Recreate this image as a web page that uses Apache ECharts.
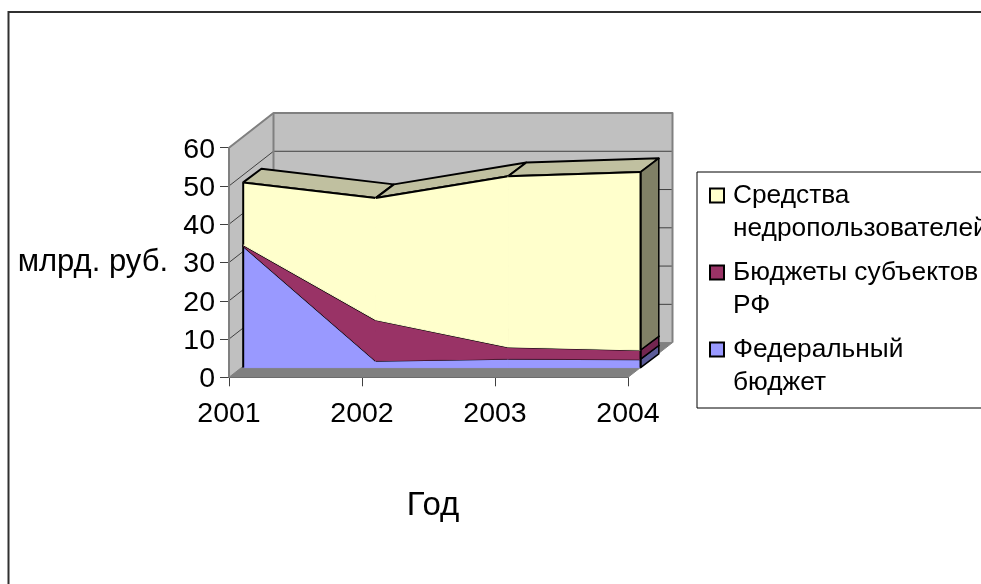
<!DOCTYPE html>
<html>
<head>
<meta charset="utf-8">
<style>html,body{margin:0;padding:0;background:#fff}#c{width:981px;height:584px}</style>
<script src="https://cdn.jsdelivr.net/npm/echarts@6/dist/echarts.min.js"></script>
</head>
<body>
<div id="c"></div>
<script>
const categories = ['2001', '2002', '2003', '2004'];
const federal = [31.8, 1.8, 2.3, 2.2];
const regional = [0.3, 10.7, 3.1, 2.4];
const subsoil = [16.3, 31.8, 44.6, 46.5];
const yTicks = [0, 10, 20, 30, 40, 50, 60];
const seriesNames = ['Федеральный бюджет', 'Бюджеты субъектов РФ', 'Средства недропользователей'];
const legendLabels = {
  'Федеральный бюджет': 'Федеральный\nбюджет',
  'Бюджеты субъектов РФ': 'Бюджеты субъектов\nРФ',
  'Средства недропользователей': 'Средства\nнедропользователей'
};
const FONT = '"Liberation Sans", Arial, sans-serif';

// depth of the pseudo-3D box, in pixels
const WALL = [44.5, -34.7], FRONT = [14.2, -9.7], THICK = [18.2, -13.7], SQUEEZE = 0.996;
const faces = [
  { front: '#9999ff', top: '#7a7acc', side: '#5c5c99' },
  { front: '#993366', top: '#7a2952', side: '#732650' },
  { front: '#ffffcc', top: '#c0c0a0', side: '#808066' }
];

function cumulative(list) {
  let acc = new Array(categories.length).fill(0);
  return list.map(vals => {
    const low = acc.slice();
    acc = acc.map((a, i) => a + vals[i]);
    return { low, high: acc.slice() };
  });
}
const stacks = cumulative([federal, regional, subsoil]);

function project(api, i, v, back) {
  const p = api.coord([i, v]), o = api.coord([0, 0]);
  const x = o[0] + (p[0] - o[0]) * SQUEEZE + FRONT[0] + (back ? THICK[0] : 0);
  const y = p[1] + FRONT[1] + (back ? THICK[1] : 0);
  return [x, y];
}
function poly(points, fill, stroke, w) {
  return { type: 'polygon', shape: { points }, style: { fill, stroke: stroke || fill, lineWidth: w === undefined ? 1 : w, lineJoin: 'round' } };
}
function line(points, stroke, w) {
  return { type: 'polyline', shape: { points }, style: { fill: 'none', stroke, lineWidth: w, lineJoin: 'round' } };
}

function renderWalls(params, api) {
  const last = categories.length - 1, top = yTicks[yTicks.length - 1];
  const a = api.coord([0, 0]), b = api.coord([last, 0]), c = api.coord([0, top]);
  const sh = p => [p[0] + WALL[0], p[1] + WALL[1]];
  const gridCol = '#404040';
  const children = [
    poly([a, c, sh(c), sh(a)], '#c0c0c0'),
    poly([sh(a), sh(c), [sh(b)[0], sh(c)[1]], sh(b)], '#c0c0c0'),
    poly([a, b, sh(b), sh(a)], '#808080')
  ];
  yTicks.slice(1, -1).forEach(v => {
    const p = api.coord([0, v]);
    children.push(line([p, sh(p), [sh(b)[0], sh(p)[1]]], gridCol, 1));
  });
  children.push(line([a, c, sh(c), [sh(b)[0], sh(c)[1]], sh(b)], '#808080', 2));
  children.push(line([sh(c), sh(a)], '#808080', 2));
  return { type: 'group', children };
}

function renderBand(k) {
  return function (params, api) {
    const i = api.value(0), s = stacks[k], f = faces[k], children = [];
    const last = categories.length - 1;
    if (i < last) {
      const lo0 = project(api, i, s.low[i]), lo1 = project(api, i + 1, s.low[i + 1]);
      const up0 = project(api, i, s.high[i]), up1 = project(api, i + 1, s.high[i + 1]);
      const ub0 = project(api, i, s.high[i], true), ub1 = project(api, i + 1, s.high[i + 1], true);
      children.push(poly([up0, up1, ub1, ub0], f.top, '#000', 2));
      children.push(poly([lo0, lo1, up1, up0], f.front));
      children.push(line([up0, up1], '#000', 2));
    } else {
      const lo = project(api, i, s.low[i]), up = project(api, i, s.high[i]);
      const lb = project(api, i, s.low[i], true), ub = project(api, i, s.high[i], true);
      children.push(poly([lo, up, ub, lb], f.side, '#000', 1.5));
    }
    if (i === 0) {
      children.push(line([project(api, 0, s.low[0]), project(api, 0, s.high[0])], '#000', 2));
    }
    if (i === last) {
      children.push(line([project(api, last, s.low[last]), project(api, last, s.high[last])], '#000', 2));
    }
    return { type: 'group', children };
  };
}

const bandSeries = seriesNames.map((name, k) => ({
  type: 'custom',
  name,
  coordinateSystem: 'cartesian2d',
  renderItem: renderBand(k),
  clip: false,
  silent: true,
  animation: false,
  itemStyle: { color: faces[k].front },
  encode: { x: 0, y: 2 },
  data: categories.map((c, i) => [i, stacks[k].low[i], stacks[k].high[i]])
}));

const chart = echarts.init(document.getElementById('c'));
chart.setOption({
  animation: false,
  backgroundColor: '#fff',
  textStyle: { fontFamily: FONT },
  graphic: [{
    type: 'rect', z: -10, silent: true,
    shape: { x: 8.5, y: 12, width: 1100, height: 800 },
    style: { fill: 'none', stroke: '#303030', lineWidth: 2 }
  }],
  grid: { left: 229, top: 147.7, width: 399, height: 229.6, containLabel: false },
  xAxis: {
    type: 'category', data: categories, boundaryGap: false,
    name: 'Год', nameLocation: 'middle', nameGap: 112,
    nameTextStyle: { color: '#000', fontSize: 33, fontFamily: FONT, padding: [0, 0, 0, 9] },
    axisLine: { lineStyle: { color: '#000', width: 1 } },
    axisTick: { length: 9, interval: 0, lineStyle: { color: '#404040', width: 1 } },
    axisLabel: { color: '#000', fontSize: 28.5, fontFamily: FONT, margin: 22, interval: 0, hideOverlap: false, showMinLabel: true, showMaxLabel: true }
  },
  yAxis: {
    type: 'value', min: 0, max: 60, interval: 10,
    name: 'млрд. руб.', nameLocation: 'middle', nameRotate: 0, nameGap: 61,
    nameTextStyle: { color: '#000', fontSize: 31, fontFamily: FONT },
    axisLine: { show: true, lineStyle: { color: '#505050', width: 1.5 } },
    axisTick: { show: true, length: 9, lineStyle: { color: '#404040', width: 1 } },
    axisLabel: { color: '#000', fontSize: 28.5, fontFamily: FONT, margin: 14, verticalAlign: 'top', lineHeight: 4 },
    splitLine: { show: false }
  },
  legend: {
    orient: 'vertical', left: 697, top: 172,
    data: seriesNames.slice().reverse(),
    selectedMode: false,
    itemWidth: 18, itemHeight: 47, itemGap: 11,
    icon: 'path://M0 0H14V14H0Z M18 47',
    symbolKeepAspect: false,
    itemStyle: { borderColor: '#000', borderWidth: 2 },
    padding: [7, 60, 9, 12],
    backgroundColor: '#fff', borderColor: '#000', borderWidth: 1,
    formatter: n => legendLabels[n],
    textStyle: { color: '#000', fontFamily: FONT, fontSize: 26.3, lineHeight: 33 }
  },
  series: [{
    type: 'custom', name: 'walls', coordinateSystem: 'cartesian2d',
    renderItem: renderWalls, clip: false, silent: true, animation: false,
    encode: { x: 0, y: 1 }, data: [[0, 0]]
  }].concat(bandSeries)
});
</script>
</body>
</html>
